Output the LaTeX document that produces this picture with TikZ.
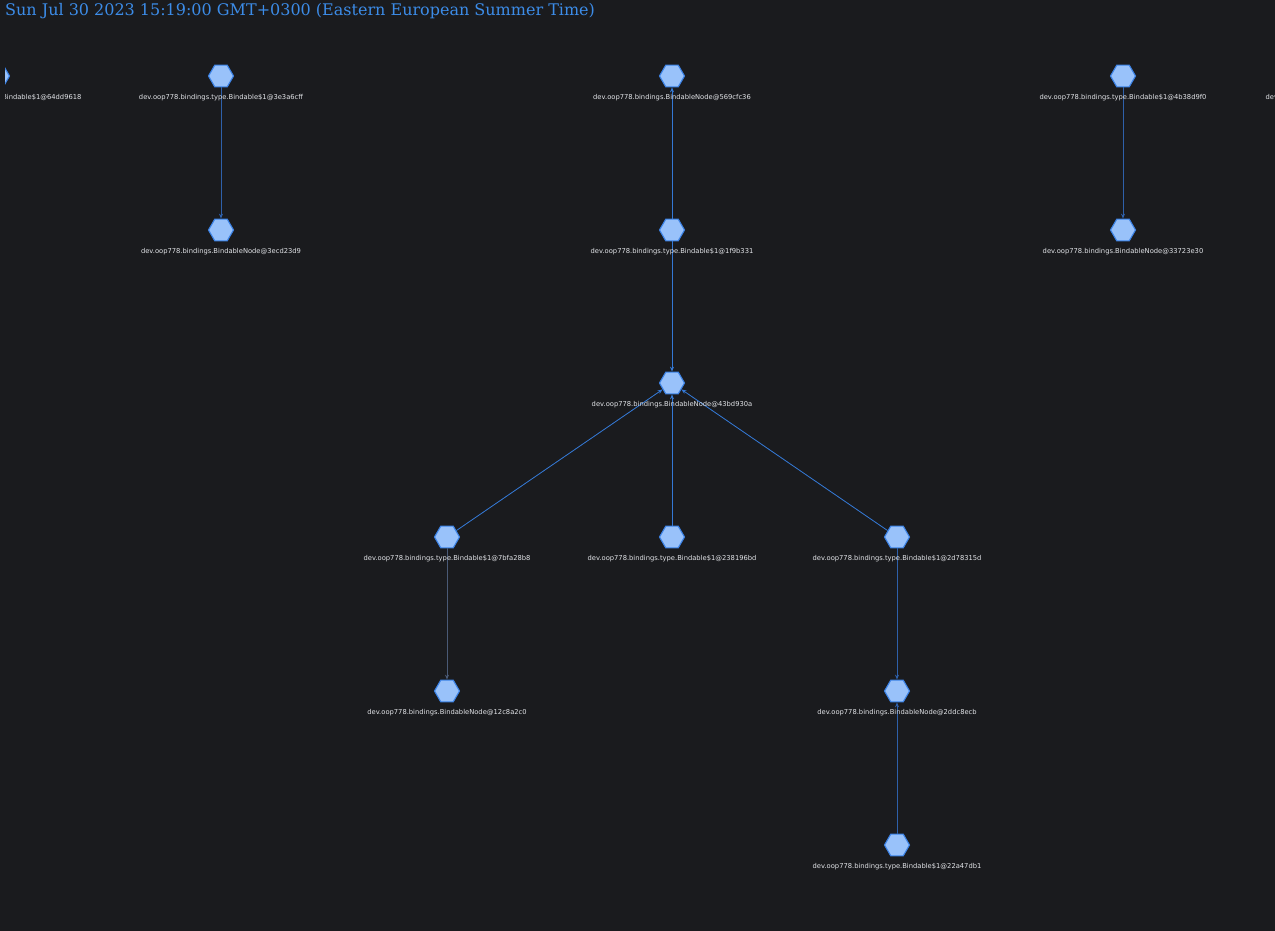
\documentclass[tikz,border=0pt]{standalone}
\usepackage{fontspec}
\setmainfont{DejaVu Serif}
\newfontfamily\labfont{DejaVu Sans}
\usetikzlibrary{shapes.geometric,arrows.meta}
\definecolor{bg}{HTML}{1A1B1E}
\definecolor{hexfill}{HTML}{99C2FA}
\definecolor{hexdraw}{HTML}{3B82E6}
\definecolor{titlecol}{HTML}{3C8CE8}
\definecolor{edgebright}{HTML}{3478D4}
\definecolor{edgedim}{HTML}{2E60AA}
\definecolor{edgegray}{HTML}{4A5A76}
\definecolor{labcol}{HTML}{E2E4E8}
\begin{document}
\begin{tikzpicture}[x=1pt,y=-1pt,
  hexnode/.style={regular polygon, regular polygon sides=6, minimum size=25pt, inner sep=0pt, fill=hexfill, draw=hexdraw, line width=1.1pt},
  lab/.style={font=\labfont\fontsize{6.75}{8}\selectfont, text=labcol, inner sep=0pt},
  edgeline/.style={line width=0.8pt, -{Stealth[length=5pt,width=4pt]}},
  bright/.style={edgeline, draw=edgebright, fill=edgebright},
  dim/.style={edgeline, draw=edgedim, fill=edgedim},
  grayish/.style={edgeline, draw=edgegray, fill=edgegray}]
\useasboundingbox (0,0) rectangle (1275,931);
\fill[bg] (0,0) rectangle (1275,931);
\node[anchor=base west, inner sep=0pt, text=titlecol, font=\fontsize{16}{19}\selectfont] (title) at (5,16) {Sun Jul 30 2023 15:19:00 GMT+0300 (Eastern European Summer Time)};
\begin{scope}
\clip (5,25) rectangle (1275,931);
% nodes
\node[hexnode] (n64) at (-3,76) {};
\node[hexnode] (n3e3) at (221,76) {};
\node[hexnode] (n3ecd) at (221,230) {};
\node[hexnode] (n569) at (672,76) {};
\node[hexnode] (n1f9) at (672,230) {};
\node[hexnode] (n43b) at (672,383) {};
\node[hexnode] (n7bf) at (447,537) {};
\node[hexnode] (n238) at (672,537) {};
\node[hexnode] (n2d7) at (897,537) {};
\node[hexnode] (n12c) at (447,691) {};
\node[hexnode] (n2dd) at (897,691) {};
\node[hexnode] (n22a) at (897,845) {};
\node[hexnode] (n4b3) at (1123,76) {};
\node[hexnode] (n337) at (1123,230) {};
\node[hexnode] (nrt) at (1345,76) {};
% edges
\draw[dim] (n3e3) -- (n3ecd);
\draw[bright] (n1f9) -- (n569);
\draw[bright] (n1f9) -- (n43b);
\draw[bright] (n7bf) -- (n43b);
\draw[bright] (n238) -- (n43b);
\draw[bright] (n2d7) -- (n43b);
\draw[grayish] (n7bf) -- (n12c);
\draw[dim] (n2d7) -- (n2dd);
\draw[dim] (n22a) -- (n2dd);
\draw[dim] (n4b3) -- (n337);
% labels
\node[lab] (l64) at (-3,98) {dev.oop778.bindings.type.Bindable\$1@64dd9618};
\node[lab] (l3e3) at (221,98) {dev.oop778.bindings.type.Bindable\$1@3e3a6cff};
\node[lab] (l3ecd) at (221,252) {dev.oop778.bindings.BindableNode@3ecd23d9};
\node[lab] (l569) at (672,98) {dev.oop778.bindings.BindableNode@569cfc36};
\node[lab] (l1f9) at (672,252) {dev.oop778.bindings.type.Bindable\$1@1f9b331};
\node[lab] (l43b) at (672,405) {dev.oop778.bindings.BindableNode@43bd930a};
\node[lab] (l7bf) at (447,559) {dev.oop778.bindings.type.Bindable\$1@7bfa28b8};
\node[lab] (l238) at (672,559) {dev.oop778.bindings.type.Bindable\$1@238196bd};
\node[lab] (l2d7) at (897,559) {dev.oop778.bindings.type.Bindable\$1@2d78315d};
\node[lab] (l12c) at (447,713) {dev.oop778.bindings.BindableNode@12c8a2c0};
\node[lab] (l2dd) at (897,713) {dev.oop778.bindings.BindableNode@2ddc8ecb};
\node[lab] (l22a) at (897,867) {dev.oop778.bindings.type.Bindable\$1@22a47db1};
\node[lab] (l4b3) at (1123,98) {dev.oop778.bindings.type.Bindable\$1@4b38d9f0};
\node[lab] (l337) at (1123,252) {dev.oop778.bindings.BindableNode@33723e30};
\node[lab] (lrt) at (1345,98) {dev.oop778.bindings.BindableNode@5e9f23b4};
\end{scope}
\end{tikzpicture}
\end{document}
